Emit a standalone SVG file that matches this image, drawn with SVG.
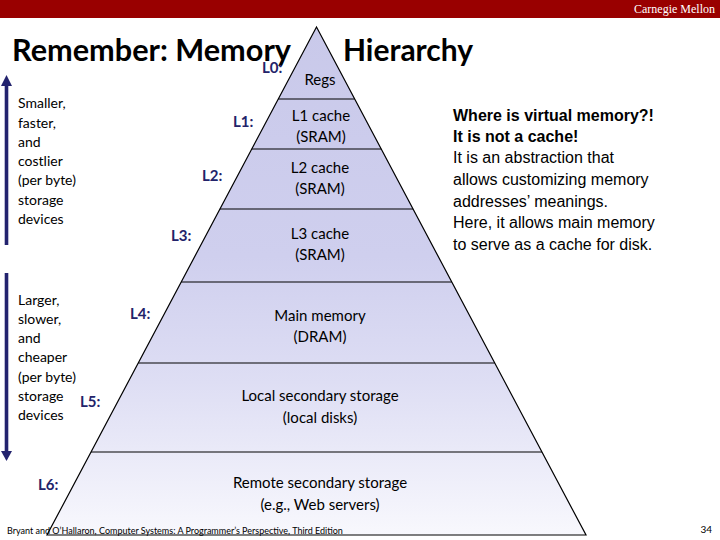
<svg xmlns="http://www.w3.org/2000/svg" width="720" height="540" viewBox="0 0 720 540">
<defs>
<linearGradient id="pyr" gradientUnits="userSpaceOnUse" x1="0" y1="27" x2="0" y2="535">
<stop offset="0" stop-color="#c9c9ea"/>
<stop offset="0.45" stop-color="#cfcfee"/>
<stop offset="0.7" stop-color="#dedef4"/>
<stop offset="1" stop-color="#f8f8fd"/>
</linearGradient>
<style>
.band{fill:url(#pyr);stroke:none}
.edge{fill:none;stroke:#000;stroke-width:1.2}
.t{font-family:Lato,"Open Sans","DejaVu Sans",sans-serif;font-size:15px;fill:#000;text-anchor:middle}
.lbl{font-family:Lato,"Open Sans","DejaVu Sans",sans-serif;font-size:15px;font-weight:bold;fill:#23236a}
.side{font-family:Lato,"Open Sans","DejaVu Sans",sans-serif;font-size:14px;fill:#000}
.note{font-family:"Liberation Sans",Arial,sans-serif;font-size:16px;fill:#000}
.arrow{fill:#23236e}
</style>
</defs>
<rect x="0" y="0" width="720" height="540" fill="#fff"/>
<rect x="0" y="0" width="720" height="18" fill="#990000"/>
<text x="715" y="13" font-family="'Liberation Serif','Times New Roman',serif" font-size="12" fill="#fff" text-anchor="end">Carnegie Mellon</text>
<text x="12" y="61" font-family="Lato,'Open Sans',sans-serif" font-size="31" font-weight="bold" fill="#000" textLength="279" lengthAdjust="spacingAndGlyphs">Remember: Memory</text>
<text x="343" y="61" font-family="Lato,'Open Sans',sans-serif" font-size="31" font-weight="bold" fill="#000" textLength="130" lengthAdjust="spacingAndGlyphs">Hierarchy</text>

<g id="L0-regs">
<polygon class="band" points="316.5,27 354.7,99 278.3,99"/>
<text class="t" x="320" y="85">Regs</text>
<text class="lbl" x="262" y="73" font-size="14">L0:</text>
</g>
<g id="L1-cache">
<polygon class="band" points="278.3,99 354.7,99 381.2,149 251.8,149"/>
<text class="t" x="321" y="121">L1 cache</text>
<text class="t" x="321" y="142">(SRAM)</text>
<text class="lbl" x="233" y="127">L1:</text>
</g>
<g id="L2-cache">
<polygon class="band" points="251.8,149 381.2,149 413.1,209 219.9,209"/>
<text class="t" x="320" y="173">L2 cache</text>
<text class="t" x="320" y="194">(SRAM)</text>
<text class="lbl" x="202" y="181">L2:</text>
</g>
<g id="L3-cache">
<polygon class="band" points="219.9,209 413.1,209 451.8,282 181.2,282"/>
<text class="t" x="320" y="239">L3 cache</text>
<text class="t" x="320" y="260">(SRAM)</text>
<text class="lbl" x="171" y="241">L3:</text>
</g>
<g id="L4-main-memory">
<polygon class="band" points="181.2,282 451.8,282 494.7,363 138.3,363"/>
<text class="t" x="320" y="321">Main memory</text>
<text class="t" x="320" y="342">(DRAM)</text>
<text class="lbl" x="130" y="319">L4:</text>
</g>
<g id="L5-local-storage">
<polygon class="band" points="138.3,363 494.7,363 542,452 91,452"/>
<text class="t" x="320" y="401">Local secondary storage</text>
<text class="t" x="320" y="423">(local disks)</text>
<text class="lbl" x="80" y="407">L5:</text>
</g>
<g id="L6-remote-storage">
<polygon class="band" points="91,452 542,452 586,535 47,535"/>
<text class="t" x="320" y="488">Remote secondary storage</text>
<text class="t" x="320" y="510">(e.g., Web servers)</text>
<text class="lbl" x="38" y="490">L6:</text>
</g>
<g id="pyramid-lines">
<polygon class="edge" points="316.5,27 586,535 47,535"/>
<line class="edge" x1="278.3" y1="99" x2="354.7" y2="99"/>
<line class="edge" x1="251.8" y1="149" x2="381.2" y2="149"/>
<line class="edge" x1="219.9" y1="209" x2="413.1" y2="209"/>
<line class="edge" x1="181.2" y1="282" x2="451.8" y2="282"/>
<line class="edge" x1="138.3" y1="363" x2="494.7" y2="363"/>
<line class="edge" x1="91" y1="452" x2="542" y2="452"/>
</g>

<g id="connectors">
<rect class="arrow" x="4.7" y="84" width="3.6" height="161"/>
<polygon class="arrow" points="6.5,75 12,86 1,86"/>
<rect class="arrow" x="4.7" y="273" width="3.6" height="180"/>
<polygon class="arrow" points="1,451 12,451 6.5,461"/>
</g>

<g id="smaller-text">
<text class="side" x="18" y="108">Smaller,</text>
<text class="side" x="18" y="128">faster,</text>
<text class="side" x="18" y="147">and</text>
<text class="side" x="18" y="166">costlier</text>
<text class="side" x="18" y="185">(per byte)</text>
<text class="side" x="18" y="205">storage</text>
<text class="side" x="18" y="224">devices</text>
</g>
<g id="larger-text">
<text class="side" x="18" y="305">Larger,</text>
<text class="side" x="18" y="324">slower,</text>
<text class="side" x="18" y="343">and</text>
<text class="side" x="18" y="362">cheaper</text>
<text class="side" x="18" y="382">(per byte)</text>
<text class="side" x="18" y="401">storage</text>
<text class="side" x="18" y="420">devices</text>
</g>
<g id="virtual-memory-note">
<text class="note" x="453" y="121" font-weight="bold">Where is virtual memory?!</text>
<text class="note" x="453" y="142" font-weight="bold" fill="#8b1010">It is not a cache!</text>
<text class="note" x="453" y="163">It is an abstraction that</text>
<text class="note" x="453" y="185">allows customizing memory</text>
<text class="note" x="453" y="207">addresses’ meanings.</text>
<text class="note" x="453" y="228">Here, it allows main memory</text>
<text class="note" x="453" y="250">to serve as a cache for disk.</text>
</g>
<text x="7" y="534" font-family="Lato,'Open Sans',sans-serif" font-size="9" fill="#000">Bryant and O’Hallaron, Computer Systems: A Programmer’s Perspective, Third Edition</text>
<text x="712" y="533" font-family="Lato,'Open Sans',sans-serif" font-size="10" fill="#000" text-anchor="end">34</text>
</svg>
